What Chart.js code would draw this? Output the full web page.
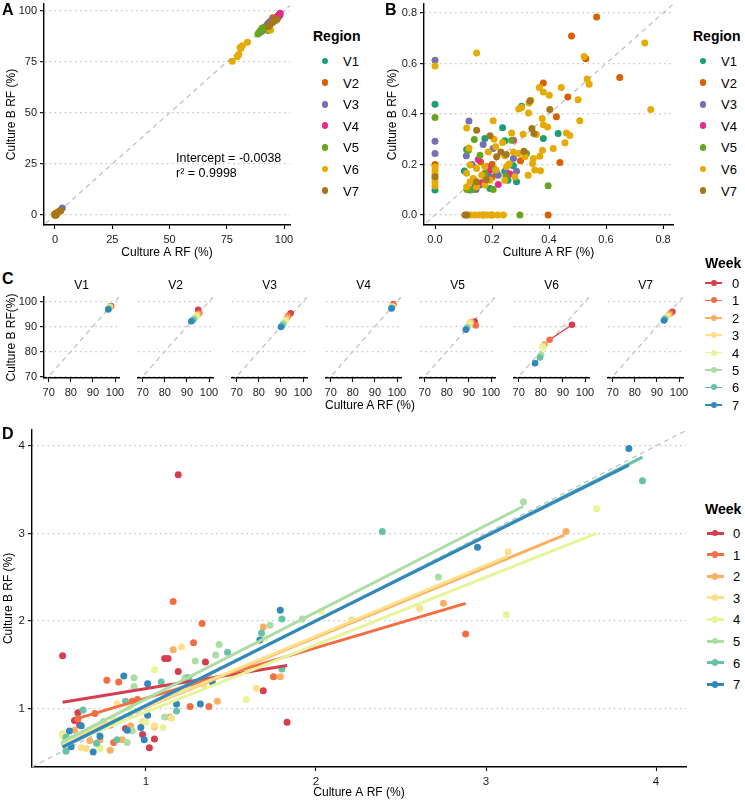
<!DOCTYPE html>
<html lang="en">
<head>
<meta charset="UTF-8">
<title>Culture A vs Culture B relative frequency</title>
<script src="https://cdn.jsdelivr.net/npm/chart.js"></script>
<style>
  html, body {
    margin: 0;
    padding: 0;
    width: 745px;
    height: 802px;
    background: #fff;
    overflow: hidden;
    font-family: "Liberation Sans", Arial, sans-serif;
    color: #000;
  }
  canvas { position: absolute; }
  .txt { position: absolute; white-space: nowrap; line-height: 1; }
  .key { position: absolute; }
</style>
</head>
<body>
<script>
// ---------- labels & colours ----------
const regions = ['V1', 'V2', 'V3', 'V4', 'V5', 'V6', 'V7'];
const regionColors = ['#1B9E77', '#D95F02', '#7570B3', '#E7298A', '#66A61E', '#E6AB02', '#A6761D'];
const weeks = ['0', '1', '2', '3', '4', '5', '6', '7'];
const weekColors = ['#D53E4F', '#F46D43', '#FDAE61', '#FEE08B', '#E6F598', '#ABDDA4', '#66C2A5', '#3288BD'];

// ---------- tick labels ----------
const ticksA = [0, 25, 50, 75, 100];
const ticksB = [0, 0.2, 0.4, 0.6, 0.8];
const ticksC = [70, 80, 90, 100];
const ticksD = [1, 2, 3, 4];

// ---------- panel C (and top of panel A): dominant taxon, week 0..7 ----------
const domA = [
  [98.2, 98.0, 97.8, 97.6, 97.4, 97.3, 97.1, 96.9],
  [95.1, 95.6, 95.0, 94.5, 93.9, 93.4, 92.8, 92.0],
  [94.4, 93.4, 92.8, 92.2, 91.7, 91.1, 90.6, 90.0],
  [98.3, 98.2, 98.0, 97.9, 97.8, 97.7, 97.6, 97.5],
  [92.6, 93.1, 91.0, 90.4, 90.0, 89.4, 89.0, 88.6],
  [94.1, 84.0, 81.8, 80.8, 81.1, 80.2, 79.6, 77.4],
  [97.0, 96.2, 95.5, 94.8, 94.2, 93.8, 93.5, 93.2]
];
const domB = [
  [98.1, 98.0, 97.9, 97.7, 97.5, 97.3, 97.0, 96.8],
  [96.7, 95.4, 94.8, 94.4, 93.8, 93.2, 92.6, 92.1],
  [95.3, 94.3, 93.6, 92.6, 92.0, 91.2, 90.4, 89.8],
  [98.9, 98.5, 98.2, 98.0, 97.8, 97.6, 97.4, 97.2],
  [92.0, 90.4, 91.8, 91.5, 90.6, 89.8, 89.2, 88.7],
  [90.7, 84.7, 82.9, 82.1, 81.6, 78.6, 77.6, 75.3],
  [95.9, 95.3, 94.8, 94.2, 93.8, 93.3, 92.9, 92.4]
];

// ---------- panel B: low-abundance taxa [Culture A, Culture B] ----------
const lowV1 = [[0, 0.439], [0, 0.099], [0.304, 0.431], [0.237, 0.346], [0.38, 0.303], [0.432, 0.323], [0.245, 0.294],
  [0.175, 0.303], [0.111, 0.26], [0.103, 0.174], [0.275, 0.195], [0.286, 0.132], [0.256, 0.138], [0.245, 0.173],
  [0.216, 0.167], [0.152, 0.125], [0.193, 0.105], [0.123, 0.099], [0.14, 0.12], [0.17, 0]];
const lowV2 = [[0.567, 0.784], [0.479, 0.709], [0.529, 0.619], [0.648, 0.545], [0.38, 0.523], [0.466, 0.468],
  [0.426, 0.389], [0.438, 0.208], [0.3, 0.215], [0.397, 0], [0, 0.2], [0.2, 0.2], [0.16, 0.21], [0.2, 0.15]];
const lowV3 = [[0, 0.613], [0, 0.292], [0, 0.244], [0.119, 0.372], [0.169, 0.279], [0.204, 0.263], [0.11, 0.235],
  [0.275, 0.224], [0.222, 0.158], [0.187, 0.159], [0.158, 0.119], [0.144, 0.101], [0.251, 0.166], [0.286, 0.173],
  [0.13, 0.2], [0.115, 0.105]];
const lowV4 = [[0.275, 0.296], [0.152, 0.22], [0.193, 0.178], [0.263, 0.162], [0.222, 0.121], [0.164, 0.128],
  [0.181, 0.191], [0.14, 0.11]];
const lowV5 = [[0, 0.386], [0.397, 0.116], [0.138, 0.299], [0.269, 0.296], [0.321, 0.244], [0.158, 0.237],
  [0.117, 0.257], [0.21, 0.18], [0.175, 0.165], [0.112, 0.101], [0.204, 0.101], [0.249, 0.155], [0.199, 0],
  [0.298, 0], [0.13, 0.1]];
const lowV6 = [[0.146, 0.642], [0, 0.59], [0.736, 0.681], [0.757, 0.418], [0.523, 0.628], [0.534, 0.539],
  [0.541, 0.518], [0.443, 0.505], [0.366, 0.505], [0.401, 0.474], [0.38, 0.487], [0.502, 0.457], [0.508, 0.373],
  [0.336, 0.455], [0.33, 0.444], [0.294, 0.42], [0.304, 0.426], [0.328, 0.404], [0.376, 0.382], [0.38, 0.358],
  [0.395, 0.349], [0.204, 0.373], [0.111, 0.345], [0.269, 0.325], [0.309, 0.32], [0.356, 0.319], [0.461, 0.325],
  [0.473, 0.315], [0.415, 0.263], [0.377, 0.257], [0.456, 0.286], [0.368, 0.233], [0.345, 0.224], [0.35, 0.178],
  [0.37, 0.175], [0.327, 0.158], [0.342, 0.204], [0.293, 0.244], [0.315, 0.231], [0.275, 0.25], [0.26, 0.202],
  [0.245, 0.235], [0.237, 0.287], [0.207, 0.3], [0.213, 0.27], [0.187, 0.25], [0.175, 0.191], [0.146, 0.184],
  [0.123, 0.198], [0.111, 0.165], [0.134, 0.145], [0.164, 0.158], [0.193, 0.138], [0.214, 0.178], [0.245, 0.138],
  [0.28, 0.152], [0.251, 0.191], [0.111, 0.112], [0.146, 0.112], [0.175, 0.119], [0.123, 0.132], [0.119, 0.265],
  [0, 0.19], [0, 0.175], [0, 0.16], [0, 0.145], [0, 0.13], [0, 0.115], [0.11, 0], [0.125, 0], [0.14, 0],
  [0.155, 0], [0.17, 0], [0.185, 0], [0.2, 0], [0.22, 0], [0.24, 0]];
const lowV7 = [[0.146, 0.336], [0.333, 0.452], [0.403, 0.418], [0.34, 0.343], [0.347, 0.323], [0.193, 0.314],
  [0.231, 0.25], [0.312, 0.253], [0.216, 0.231], [0.146, 0.132], [0, 0.152], [0.105, 0], [0.112, 0],
  [0.25, 0.24], [0.18, 0.14]];
const lowByRegion = [lowV1, lowV2, lowV3, lowV4, lowV5, lowV6, lowV7];

// ---------- panel A: a few more mid-low taxa [region index, A, B] ----------
const midA = [[0, 1.1, 1.2], [0, 0.5, 0.6], [1, 0.8, 0.7], [1, 1.5, 1.4], [2, 3.2, 3.4], [2, 2.4, 2.1],
  [3, 0.6, 0.5], [4, 1.9, 2.0], [4, 0.9, 0.8], [5, 0.5, 0.5], [5, 1.3, 1.5], [5, 2.0, 1.7], [5, 0.3, 0.6],
  [6, 0.4, 0.3], [6, 1.0, 1.2], [6, 2.5, 2.2]];

// ---------- panel D: taxa 0.5-4 %, by week [Culture A, Culture B] ----------
const wk0 = [[0.51, 1.6], [1.19, 3.67], [0.6, 0.95], [0.58, 0.86], [0.98, 0.7], [1.02, 0.55], [1.05, 0.65],
  [1.11, 1.57], [1.13, 1.57], [1.19, 1.42], [1.35, 1.53], [1.69, 1.2], [1.83, 0.84], [0.88, 0.77], [0.61, 0.81]];
const wk1 = [[1.16, 2.22], [1.33, 1.97], [1.28, 1.75], [0.77, 1.32], [0.84, 1.3], [0.7, 0.94], [0.6, 0.88],
  [0.79, 0.81], [0.81, 0.61], [1.26, 1.02], [1.37, 1.02], [0.92, 1.08], [1.75, 1.36], [2.88, 1.85], [0.95, 1.1]];
const wk2 = [[1.16, 1.67], [1.42, 1.08], [1.69, 1.93], [1.79, 1.36], [1.05, 0.79], [1.14, 0.9], [0.73, 0.64],
  [0.79, 0.52], [0.67, 0.63], [0.86, 0.64], [0.91, 0.8], [2.75, 2.2], [3.47, 3.02], [0.58, 0.75]];
const wk3 = [[1.21, 1.7], [1.65, 1.23], [1.34, 1.27], [1.05, 0.8], [1.15, 0.89], [0.65, 0.54], [0.62, 0.55],
  [0.83, 1.05], [0.73, 0.55], [0.51, 0.71], [2.61, 2.14], [3.13, 2.79], [2.21, 2.01], [0.98, 0.85]];
const wk4 = [[1.05, 1.44], [1.59, 1.1], [1.1, 0.78], [1.0, 0.84], [0.73, 0.54], [0.51, 0.68], [0.81, 0.88],
  [3.12, 2.07], [3.65, 3.28], [2.03, 2.11], [1.7, 1.8], [0.9, 1.0], [1.22, 1.2]];
const wk5 = [[1.43, 1.73], [1.29, 1.54], [1.41, 1.61], [1.73, 1.95], [0.93, 1.35], [0.93, 1.25], [0.92, 0.74],
  [0.89, 0.61], [1.11, 0.9], [1.23, 1.35], [1.92, 2.02], [2.72, 2.5], [3.22, 3.36], [0.52, 0.6], [0.75, 0.85]];
const wk6 = [[1.48, 1.64], [1.09, 1.3], [1.18, 0.97], [1.8, 2.02], [1.68, 1.86], [0.63, 0.98], [0.53, 0.67],
  [0.53, 0.51], [0.71, 0.6], [0.83, 0.64], [0.88, 1.08], [2.39, 3.02], [3.92, 3.6], [1.25, 1.35], [1.8, 1.45]];
const wk7 = [[0.87, 1.37], [1.01, 1.28], [1.79, 2.12], [1.67, 1.78], [1.39, 1.3], [1.32, 1.05], [1.18, 1.05],
  [1.01, 0.92], [0.97, 0.78], [0.99, 0.64], [0.89, 0.75], [0.69, 0.5], [0.73, 0.68], [0.62, 0.8], [0.55, 0.74],
  [0.56, 0.56], [2.95, 2.84], [3.84, 3.97]];
const weekPoints = [wk0, wk1, wk2, wk3, wk4, wk5, wk6, wk7];

// linear fits per week (start and end of each fitted line)
const fitX0 = [0.51, 0.59, 0.51, 0.51, 0.51, 0.51, 0.51, 0.51];
const fitY0 = [1.07, 0.88, 0.62, 0.62, 0.58, 0.62, 0.55, 0.56];
const fitX1 = [1.83, 2.88, 3.46, 3.13, 3.65, 3.22, 3.92, 3.84];
const fitY1 = [1.49, 2.20, 2.98, 2.74, 3.00, 3.31, 3.87, 3.78];

// ---------- helpers ----------
const FONT = '"Liberation Sans", Arial, sans-serif';
Chart.defaults.font.family = FONT;
Chart.defaults.color = '#000';

function put(text, x, y, css, transform) {
  const d = document.createElement('div');
  d.className = 'txt';
  d.textContent = text;
  d.style.left = x + 'px';
  d.style.top = y + 'px';
  d.style.transform = transform || 'translate(0,-50%)';
  Object.assign(d.style, css || {});
  document.body.appendChild(d);
}

function keyBox(x, y, w, h, color, round) {
  const d = document.createElement('div');
  d.className = 'key';
  Object.assign(d.style, {
    left: x + 'px', top: y + 'px', width: w + 'px', height: h + 'px',
    background: color, borderRadius: round ? '50%' : '0'
  });
  document.body.appendChild(d);
}

function legend(title, labels, colors, o) {
  put(title, o.x, o.ty, { fontWeight: 'bold', fontSize: '14px' });
  labels.forEach((lab, i) => {
    const y = o.y0 + i * o.dy;
    if (o.lw) keyBox(o.dx - o.lw / 2, y - o.lh / 2, o.lw, o.lh, colors[i], false);
    keyBox(o.dx - o.r, y - o.r, o.r * 2, o.r * 2, colors[i], true);
    put(lab, o.tx, y, { fontSize: '13px' });
  });
}

function pts(list) { return list.map(p => ({ x: p[0], y: p[1] })); }

function scaleOpts(o) {
  const fixTicks = list => s => { s.ticks = list.map(v => ({ value: v })); };
  return {
    x: {
      type: 'linear', min: o.xr[0], max: o.xr[1],
      afterBuildTicks: fixTicks(o.xt),
      afterFit: s => { s.height = o.xh; },
      grid: { drawOnChartArea: false, tickLength: 4, tickColor: '#000', tickWidth: 1.1 },
      border: { color: '#000', width: 1.4 },
      ticks: { color: '#1a1a1a', font: { size: o.tf || 11 }, padding: 4, maxRotation: 0, autoSkip: false, callback: o.fmt },
      title: { display: !!o.xTitle, text: o.xTitle || '', font: { size: 12 }, padding: { top: 0, bottom: 2 } }
    },
    y: {
      type: 'linear', min: o.yr[0], max: o.yr[1],
      afterBuildTicks: fixTicks(o.xt),
      afterFit: s => { s.width = o.yw; },
      grid: {
        color: '#c4c4c4', lineWidth: 1.3, drawTicks: o.yAxis, tickLength: 4, tickColor: '#000', tickWidth: 1.1
      },
      border: { display: o.yAxis, color: '#000', width: 1.4, dash: [1.5, 3.6] },
      ticks: { display: o.yAxis, color: '#1a1a1a', font: { size: o.tf || 11 }, padding: 3, callback: o.fmt },
      title: { display: !!o.yTitle, text: o.yTitle || '', font: { size: 12 }, padding: { top: o.ytp === undefined ? 4 : o.ytp, bottom: 0 } }
    }
  };
}

function makeChart(box, datasets, o) {
  const cv = document.createElement('canvas');
  cv.width = box.w;
  cv.height = box.h;
  cv.style.left = box.x + 'px';
  cv.style.top = box.y + 'px';
  document.body.appendChild(cv);
  return new Chart(cv, {
    type: 'scatter',
    data: { datasets: datasets },
    options: {
      responsive: false,
      animation: false,
      layout: { padding: box.pad },
      plugins: { legend: { display: false }, tooltip: { enabled: false } },
      scales: scaleOpts(o)
    }
  });
}

function identity(r) {
  return {
    data: [{ x: r[0], y: r[0] }, { x: r[1], y: r[1] }],
    showLine: true, borderColor: '#bdbdbd', borderWidth: 1.2, borderDash: [5, 4],
    pointRadius: 0, order: 99
  };
}

// ---------- panel A ----------
const dsA = [identity([-10, 110])];
regions.forEach((r, i) => {
  const all = lowByRegion[i].concat(midA.filter(m => m[0] === i).map(m => [m[1], m[2]]));
  domA[i].forEach((a, w) => all.push([a, domB[i][w]]));
  dsA.push({ data: pts(all), backgroundColor: regionColors[i], pointRadius: 3.5, borderWidth: 0, order: 20 - i });
});
makeChart({ x: 0, y: -6, w: 300, h: 268, pad: { top: 10, right: 10 } }, dsA,
  { xr: [-4.8, 102.6], yr: [-4.9, 103.4], xt: ticksA, xh: 37, yw: 44, yAxis: true,
    xTitle: 'Culture A RF (%)', yTitle: 'Culture B RF (%)' });
put('Intercept = -0.0038', 176, 158, { fontSize: '12.5px' });
put('r\u00B2 = 0.9998', 176, 173, { fontSize: '12.5px' });
legend('Region', regions, regionColors, { x: 313, ty: 36, y0: 61, dy: 21.6, dx: 325, r: 3.4, tx: 343 });

// ---------- panel B ----------
const dsB = [identity([-1, 1])];
regions.forEach((r, i) => {
  dsB.push({ data: pts(lowByRegion[i]), backgroundColor: regionColors[i], pointRadius: 3.5, borderWidth: 0, order: 20 - i });
});
makeChart({ x: 381, y: -6, w: 302, h: 268, pad: { top: 10, right: 10 } }, dsB,
  { xr: [-0.0386, 0.835], yr: [-0.0396, 0.836], xt: ticksB, xh: 37, yw: 43, yAxis: true,
    fmt: v => v.toFixed(1), xTitle: 'Culture A RF (%)', yTitle: 'Culture B RF (%)' });
legend('Region', regions, regionColors, { x: 693, ty: 36, y0: 61, dy: 21.6, dx: 703, r: 3.4, tx: 721 });

// ---------- panel C: one small panel per region ----------
regions.forEach((r, i) => {
  const first = i === 0;
  const left = 44 + 94 * i;
  const path = domA[i].map((a, w) => ({ x: a, y: domB[i][w] }));
  const ds = [identity([60, 110]), {
    data: path, showLine: true, borderWidth: 1.3,
    segment: { borderColor: c => weekColors[c.p0DataIndex] },
    pointBackgroundColor: weekColors, pointRadius: 3.3, pointBorderWidth: 0, order: 1
  }];
  const box = first
    ? { x: 0, y: 287, w: 129, h: 113, pad: { top: 10, right: 10 } }
    : { x: left - 8, y: 287, w: 93, h: 113, pad: { top: 10, right: 10, left: 8 } };
  makeChart(box, ds, {
    xr: [67.9, 101.8], yr: [69.4, 101.8], xt: ticksC, xh: 22, yw: first ? 44 : 0, yAxis: first,
    yTitle: first ? 'Culture B RF(%)' : ''
  });
  put(r, left + 37.5, 285, { fontSize: '12px' }, 'translate(-50%,-50%)');
});
put('Culture A RF (%)', 370, 405, { fontSize: '12px' }, 'translate(-50%,-50%)');
legend('Week', weeks, weekColors, { x: 705, ty: 263, y0: 283, dy: 17.4, dx: 713.5, r: 3, lw: 17, lh: 1.6, tx: 732 });

// ---------- panel D ----------
const dsD = [identity([0, 5])];
weeks.forEach((w, i) => {
  dsD.push({ data: pts(weekPoints[i]), backgroundColor: weekColors[i], pointRadius: 3.5, borderWidth: 0, order: 20 - i });
  dsD.push({
    data: [{ x: fitX0[i], y: fitY0[i] }, { x: fitX1[i], y: fitY1[i] }],
    showLine: true, borderColor: weekColors[i], borderWidth: 3, pointRadius: 0, order: 10 - i
  });
});
makeChart({ x: 0, y: 420, w: 696, h: 382, pad: { top: 8, right: 10 } }, dsD,
  { xr: [0.33, 4.176], yr: [0.33, 4.182], xt: ticksD, xh: 35, yw: 32, yAxis: true, tf: 11.5, ytp: 1,
    xTitle: 'Culture A RF (%)', yTitle: 'Culture B RF (%)' });
legend('Week', weeks, weekColors, { x: 705, ty: 509, y0: 533, dy: 21.6, dx: 715, r: 3.4, lw: 17, lh: 3, tx: 733 });

// ---------- panel letters ----------
put('A', 2, 10, { fontWeight: 'bold', fontSize: '16px' });
put('B', 385, 10, { fontWeight: 'bold', fontSize: '16px' });
put('C', 2, 279, { fontWeight: 'bold', fontSize: '16px' });
put('D', 2, 434, { fontWeight: 'bold', fontSize: '16px' });
</script>
</body>
</html>
